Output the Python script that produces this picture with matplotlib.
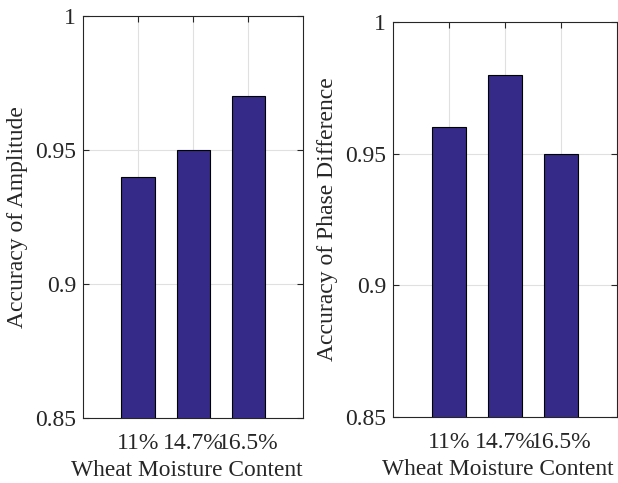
import matplotlib
matplotlib.use('Agg')
from matplotlib import pyplot as plt

# data
moisture = ['11%', '14.7%', '16.5%']
amp_acc = [0.94, 0.95, 0.97]
phase_acc = [0.96, 0.98, 0.95]

plt.rcParams['font.family'] = ['Liberation Serif', 'DejaVu Serif']

fig = plt.figure(figsize=(6.18, 4.83), dpi=100)
W, H = 618, 483

def box(l, t, r, b):
    return [l / W, 1 - b / H, (r - l) / W, (b - t) / H]

ax1 = fig.add_axes(box(83, 16, 303, 418))
ax2 = fig.add_axes(box(393, 22, 617, 417))

for ax, vals, ylab in [(ax1, amp_acc, 'Accuracy of Amplitude'),
                       (ax2, phase_acc, 'Accuracy of Phase Difference')]:
    x = list(range(1, len(moisture) + 1))
    ax.bar(x, vals, width=0.6, color='#352a87', edgecolor='black', linewidth=0.8, zorder=3)
    ax.set_xlim(0, 4)
    ax.set_ylim(0.85, 1)
    ax.set_xticks(x)
    ax.set_xticklabels(moisture)
    ax.set_yticks([0.85, 0.9, 0.95, 1])
    ax.set_yticklabels(['0.85', '0.9', '0.95', '1'])
    ax.grid(True, color='#e0e0e0', linewidth=0.8, zorder=0)
    ax.tick_params(direction='in', top=True, right=True, labelsize=17, length=4,
                   width=0.8, colors='#262626')
    ax.tick_params(axis='y', pad=5)
    ax.tick_params(axis='x', pad=11)
    for s in ax.spines.values():
        s.set_color('#262626')
        s.set_linewidth(0.8)
    ax.set_xlabel('Wheat Moisture Content', fontsize=16.8, color='#262626', labelpad=4)
    ax.xaxis.label.set_x(0.47)
    ax.set_ylabel(ylab, fontsize=17, color='#262626', labelpad=5)

fig.savefig('out.png', dpi=100)
